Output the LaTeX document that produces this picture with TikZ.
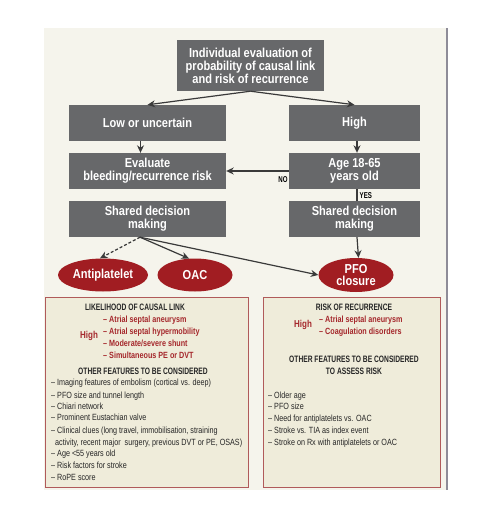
\documentclass[tikz,border=0pt]{standalone}
\usepackage{fontspec}
\setmainfont{Liberation Sans}
\newfontfamily\bxf[FakeStretch=0.85]{Liberation Sans}
\newfontfamily\smf[FakeStretch=0.8]{Liberation Sans}
\newfontfamily\hdf[FakeStretch=0.72]{Liberation Sans}
\usetikzlibrary{arrows.meta,shapes.geometric}
\definecolor{panel}{HTML}{F5F4EC}
\definecolor{boxgray}{HTML}{67686A}
\definecolor{ovred}{HTML}{A11D22}
\definecolor{txtred}{HTML}{A5282C}
\definecolor{framered}{HTML}{B05A5A}
\definecolor{inbox}{HTML}{EFECDA}
\definecolor{arr}{HTML}{3A3A3A}
\definecolor{edgegray}{HTML}{8E8C98}
\begin{document}
\begin{tikzpicture}[x=1pt,y=-1pt,
  gbox/.style={fill=boxgray, text=white, font=\bxf\bfseries\fontsize{13}{13}\selectfont, align=center, inner sep=0pt},
  wbox/.style={gbox, minimum width=157pt, minimum height=36pt},
  nbox/.style={gbox, minimum width=131pt, minimum height=36pt},
  oval/.style={ellipse, fill=ovred, text=white, font=\bxf\bfseries\fontsize{13}{12}\selectfont, align=center, inner sep=0pt, minimum height=33pt},
  arrow/.style={draw=arr, line width=1.2pt, -{Stealth[length=7.5pt,width=7pt]}},
  plain/.style={draw=arr, line width=1.2pt},
  lab/.style={font=\hdf\bfseries\fontsize{8.5}{9}\selectfont, text=black, inner sep=0pt},
  frame/.style={draw=framered, line width=1pt, fill=inbox},
  head/.style={font=\hdf\bfseries\fontsize{9.3}{12}\selectfont, text=black!85, inner sep=0pt, anchor=base, align=center},
  item/.style={font=\smf\fontsize{9}{11}\selectfont, text=black!85, inner sep=0pt, anchor=base west},
  ritem/.style={font=\smf\bfseries\fontsize{9}{11}\selectfont, text=txtred, inner sep=0pt, anchor=base west},
  hi/.style={font=\smf\bfseries\fontsize{10}{11}\selectfont, text=txtred, inner sep=0pt}
]
\useasboundingbox (0,0) rectangle (500,522);
\fill[panel] (44,28) rectangle (446,490);
\draw[edgegray, line width=2pt] (446.5,28) -- (446.5,490);

% flow boxes
\node[gbox, minimum width=147pt, minimum height=51pt] (top) at (250.5,65.5) {Individual evaluation of\\probability of causal link\\and risk of recurrence};
\node[wbox] (low) at (147.5,123) {Low or uncertain};
\node[nbox] (high) at (354.5,123) {High};
\node[wbox] (eval) at (147.5,171) {Evaluate\\bleeding/recurrence risk};
\node[nbox] (age) at (354.5,171) {Age 18-65\\years old};
\node[wbox] (shl) at (147.5,219) {Shared decision\\making};
\node[nbox] (shr) at (354.5,219) {Shared decision\\making};
\node[oval, minimum width=90pt] (anti) at (103,275) {Antiplatelet};
\node[oval, minimum width=75pt] (oac) at (195,275) {OAC};
\node[oval, minimum width=75pt, minimum height=34pt] (pfo) at (356,275) {PFO\\closure};

% connectors
\draw[arrow] (top.south) -- (low.north);
\draw[arrow] (top.south) -- (high.north);
\draw[arrow] ([xshift=-7pt]low.south) -- ([xshift=-7pt]eval.north);
\draw[arrow] ([xshift=2.5pt]high.south) -- ([xshift=2.5pt]age.north);
\draw[arrow] (age.west) -- (eval.east);
\node[lab, anchor=east] (no) at ([xshift=-1pt,yshift=-9pt]age.west) {NO};
\draw[plain] ([xshift=2.5pt]age.south) -- ([xshift=2.5pt]shr.north);
\node[lab, anchor=west] (yes) at ([xshift=5pt,yshift=-6pt]age.south) {YES};
\draw[arrow] ([xshift=2.5pt]shr.south) -- ([xshift=2.5pt]pfo.north);
\draw[arrow, dashed, dash pattern=on 3pt off 2pt] ([xshift=-7.5pt]shl.south) -- ([xshift=-3pt]anti.north);
\draw[arrow] ([xshift=-7.5pt]shl.south) -- (oac.110);
\draw[arrow] ([xshift=-7.5pt]shl.south) -- (pfo.west);

% bottom boxes
\draw[frame] (45,297) rectangle (248,487);
\draw[frame] (263,297) rectangle (440,487);

% left box
\node[head] (lh1) at (135,310.5) {LIKELIHOOD OF CAUSAL LINK};
\node[hi] (lhigh) at (89,336) {High};
\node[ritem] (lr1) at (103,322.5) {– Atrial septal aneurysm};
\node[ritem] (lr2) at (103,334.5) {– Atrial septal hypermobility};
\node[ritem] (lr3) at (103,346.5) {– Moderate/severe shunt};
\node[ritem] (lr4) at (103,358) {– Simultaneous PE or DVT};
\node[head] (lh2) at (143,374.5) {OTHER FEATURES TO BE CONSIDERED};
\node[item] (li1) at (51,385.5) {– Imaging features of embolism (cortical vs. deep)};
\node[item] (li2) at (51,398.5) {– PFO size and tunnel length};
\node[item] (li3) at (51,409.5) {– Chiari network};
\node[item] (li4) at (51,420.5) {– Prominent Eustachian valve};
\node[item] (li5) at (51,433.5) {– Clinical clues (long travel, immobilisation, straining};
\node[item] (li6) at (55,445.5) {activity, recent major\ \ surgery, previous DVT or PE, OSAS)};
\node[item] (li7) at (51,456.5) {– Age <55 years old};
\node[item] (li8) at (51,468.5) {– Risk factors for stroke};
\node[item] (li9) at (51,480.5) {– RoPE score};

% right box
\node[head] (rh1) at (354,310.5) {RISK OF RECURRENCE};
\node[hi] (rhigh) at (303,325) {High};
\node[ritem] (rr1) at (319,322.5) {– Atrial septal aneurysm};
\node[ritem] (rr2) at (319,334.5) {– Coagulation disorders};
\node[head] (rh2) at (354,374.5) {OTHER FEATURES TO BE CONSIDERED\\TO ASSESS RISK};
\node[item] (ri1) at (268,398.5) {– Older age};
\node[item] (ri2) at (268,409.5) {– PFO size};
\node[item] (ri3) at (268,421.5) {– Need for antiplatelets vs. OAC};
\node[item] (ri4) at (268,433.5) {– Stroke vs. TIA as index event};
\node[item] (ri5) at (268,445.5) {– Stroke on Rx with antiplatelets or OAC};
\end{tikzpicture}
\end{document}
